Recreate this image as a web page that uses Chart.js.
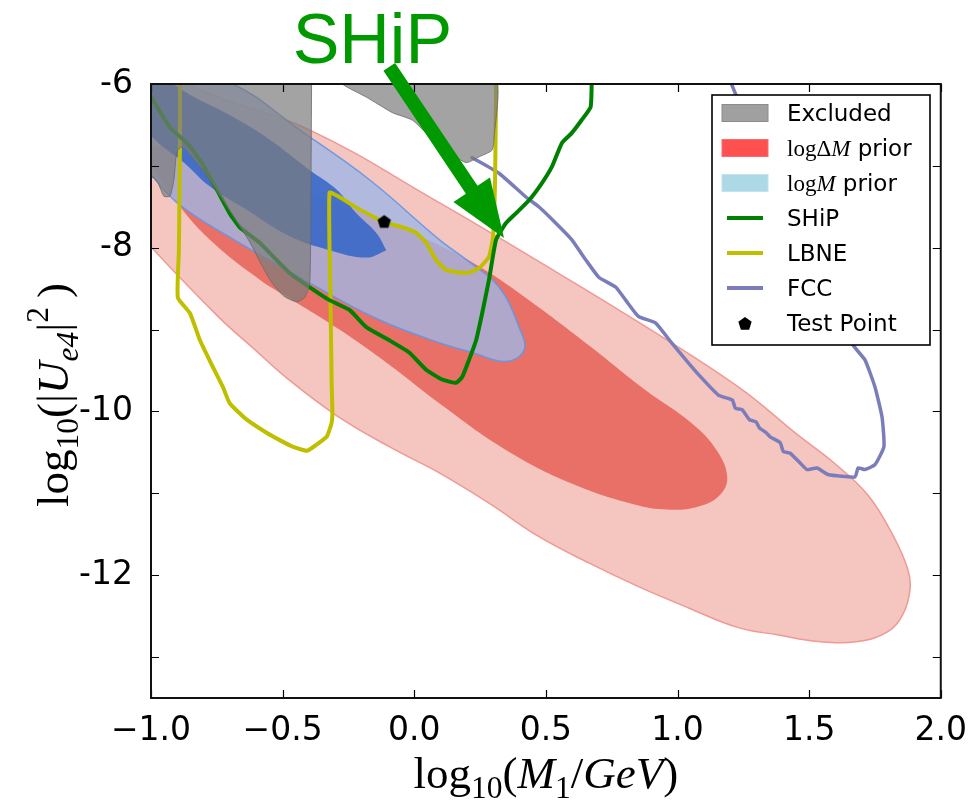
<!DOCTYPE html>
<html>
<head>
<meta charset="utf-8">
<script src="https://cdn.jsdelivr.net/npm/chart.js@4.4.0/dist/chart.umd.min.js"></script>
<style>
  html, body { margin: 0; padding: 0; background: #fff; }
  #wrap { width: 973px; height: 806px; }
</style>
</head>
<body>
<div id="wrap"><canvas id="chart" width="973" height="806"></canvas></div>
<script>
// x = log10(M1/GeV), y = log10(|Ue4|^2)

// logDeltaM prior, outer (2 sigma) contour
const dmOuterX = [-1.155,-0.814,-0.398,0.095,0.474,0.852,1.231,1.458,1.595,1.723,1.818,1.875,1.883,1.856,1.799,1.686,1.534,1.383,1.231,1.042,0.852,0.663,0.474,0.284,0.095,-0.095,-0.295,-0.485,-0.614,-0.739,-1.0,-1.155,-1.27,-1.155];
const dmOuterY = [-5.46,-6.07,-6.56,-7.45,-8.17,-8.91,-9.70,-10.29,-10.63,-11.02,-11.51,-11.93,-12.18,-12.48,-12.69,-12.81,-12.81,-12.73,-12.64,-12.40,-12.14,-11.85,-11.53,-11.12,-10.75,-10.43,-10.05,-9.59,-9.22,-8.86,-7.99,-7.42,-6.44,-5.46];

// logDeltaM prior, inner (1 sigma) contour
const dmInnerX = [-0.947,-0.739,-0.511,-0.322,-0.121,0.095,0.258,0.436,0.663,0.879,1.053,1.148,1.189,1.155,1.080,0.977,0.852,0.598,0.348,0.095,-0.095,-0.284,-0.462,-0.587,-0.777,-0.909,-0.985,-1.011,-0.947];
const dmInnerY = [-6.75,-6.99,-7.23,-7.42,-7.66,-7.97,-8.25,-8.64,-9.19,-9.74,-10.14,-10.47,-10.81,-11.04,-11.16,-11.20,-11.15,-10.88,-10.47,-9.90,-9.43,-9.00,-8.64,-8.39,-7.90,-7.42,-7.05,-6.81,-6.75];

// logM prior, outer contour
const mOuterX = [-1.004,-0.689,-0.436,-0.170,0.095,0.208,0.322,0.398,0.417,0.348,0.220,0.095,-0.133,-0.398,-0.701,-0.890,-0.992,-1.117,-1.155,-1.004];
const mOuterY = [-5.71,-6.00,-6.56,-7.17,-7.90,-8.17,-8.48,-8.97,-9.25,-9.39,-9.28,-9.16,-8.88,-8.43,-7.87,-7.48,-7.14,-6.68,-5.83,-5.71];

// logM prior, inner contour
const mInnerX = [-0.106,-0.144,-0.220,-0.295,-0.398,-0.549,-0.701,-0.852,-1.004,-1.117,-1.117,-0.985,-0.871,-0.777,-0.625,-0.473,-0.322,-0.182,-0.106];
const mInnerY = [-8.03,-7.82,-7.58,-7.29,-7.05,-6.68,-6.38,-6.13,-5.83,-5.71,-6.20,-6.68,-6.97,-7.25,-7.56,-7.86,-8.03,-8.12,-8.03];

// excluded regions
const exLeftX = [-1.05,-0.390,-0.390,-0.394,-0.398,-0.417,-0.447,-0.496,-0.542,-0.580,-0.625,-0.682,-0.739,-0.795,-0.845,-0.883,-0.902,-0.913,-0.928,-0.951,-0.973,-0.992,-1.05,-1.05];
const exLeftY = [-5.9,-5.9,-6.0,-8.03,-8.45,-8.61,-8.66,-8.59,-8.42,-8.21,-7.93,-7.64,-7.36,-7.09,-6.89,-6.77,-6.83,-7.17,-7.37,-7.37,-7.21,-7.14,-7.13,-5.9];
const exTopX = [-0.273,-0.273,-0.182,-0.083,-0.008,0.045,0.121,0.197,0.246,0.295,0.303,0.303,-0.273];
const exTopY = [-5.9,-6.0,-6.16,-6.35,-6.44,-6.60,-6.81,-6.96,-6.89,-6.81,-6.68,-5.9,-5.9];

// sensitivity curves
const shipX = [-1.02,-0.928,-0.864,-0.814,-0.750,-0.701,-0.663,-0.587,-0.523,-0.473,-0.398,-0.322,-0.246,-0.182,-0.095,-0.019,0.045,0.106,0.159,0.182,0.208,0.235,0.258,0.284,0.311,0.348,0.386,0.436,0.485,0.523,0.561,0.598,0.636,0.670,0.674];
const shipY = [-6.05,-6.53,-6.72,-6.93,-7.29,-7.58,-7.75,-7.94,-8.15,-8.31,-8.48,-8.64,-8.76,-8.97,-9.13,-9.28,-9.49,-9.61,-9.65,-9.58,-9.37,-9.13,-8.80,-8.39,-7.90,-7.70,-7.58,-7.42,-7.21,-7.01,-6.72,-6.60,-6.44,-6.28,-6.00];

const lbneX = [-0.890,-0.890,-0.894,-0.898,-0.852,-0.814,-0.769,-0.727,-0.701,-0.636,-0.561,-0.511,-0.462,-0.409,-0.386,-0.333,-0.314,-0.311,-0.314,-0.318,-0.322,-0.284,-0.220,-0.144,-0.114,-0.045,0.008,0.045,0.083,0.121,0.197,0.246,0.284,0.299,0.307,0.311];
const lbneY = [-6.00,-6.68,-8.03,-8.61,-8.80,-9.13,-9.43,-9.70,-9.90,-10.10,-10.26,-10.35,-10.43,-10.48,-10.44,-10.31,-10.14,-10.02,-9.61,-8.64,-7.33,-7.38,-7.51,-7.64,-7.69,-7.75,-7.82,-7.94,-8.15,-8.27,-8.31,-8.25,-8.11,-7.87,-7.17,-6.00];

const fccX = [1.205,1.231,1.345,1.458,1.572,1.667,1.712,1.750,1.777,1.784,1.750,1.712,1.686,1.674,1.572,1.530,1.492,1.466,1.428,1.402,1.390,1.352,1.337,1.311,1.299,1.273,1.246,1.220,1.208,1.155,1.080,1.042,0.977,0.917,0.852,0.803,0.765,0.701,0.652,0.598,0.538,0.473,0.424,0.322,0.220];
const fccY = [-6.00,-6.20,-6.93,-7.66,-8.52,-9.19,-9.37,-9.70,-10.07,-10.43,-10.65,-10.71,-10.69,-10.80,-10.77,-10.69,-10.71,-10.63,-10.51,-10.49,-10.38,-10.31,-10.26,-10.20,-10.13,-10.10,-9.98,-9.96,-9.86,-9.80,-9.55,-9.41,-9.16,-8.92,-8.84,-8.64,-8.48,-8.36,-8.15,-7.90,-7.70,-7.50,-7.38,-7.09,-6.90];

// test point
const testX = [-0.114];
const testY = [-7.68];

// axes
const xTickValues = [-1.0, -0.5, 0.0, 0.5, 1.0, 1.5, 2.0];
const yTickValues = [-13, -12, -11, -10, -9, -8, -7, -6];
const yLabelledTicks = [-12, -10, -8, -6];

// annotation (data coordinates)
const shipLabel = { text: 'SHiP', x: -0.462, y: -5.74 };
const arrowFrom = { x: -0.095, y: -5.79 };
const arrowTo = { x: 0.341, y: -7.88 };

const SANS = 'DejaVu Sans';
const SERIF = 'Liberation Serif';

function pts(xs, ys) {
    return xs.map((x, i) => ({ x: x, y: ys[i] }));
}

function pentagon(ctx, cx, cy, r) {
    ctx.beginPath();
    for (let i = 0; i < 5; i++) {
        const a = -Math.PI / 2 + i * 2 * Math.PI / 5;
        const px = cx + r * Math.cos(a), py = cy + r * Math.sin(a);
        if (i === 0) ctx.moveTo(px, py); else ctx.lineTo(px, py);
    }
    ctx.closePath();
    ctx.fill();
}

// marker image for the test point
const marker = document.createElement('canvas');
marker.width = 18; marker.height = 18;
(function () {
    const m = marker.getContext('2d');
    m.fillStyle = '#000';
    pentagon(m, 9, 9.5, 7);
})();

// draw text made of roman / italic / sub / superscript parts
function drawRich(ctx, parts, x, y, size, align) {
    const items = parts.map(p => {
        const s = (p.sub || p.sup) ? size * 0.7 : size;
        const font = (p.it ? 'italic ' : '') + s + 'px "' + (p.sans ? SANS : SERIF) + '"';
        ctx.font = font;
        const w = ctx.measureText(p.t).width;
        return { t: p.t, font: font, w: w, dy: p.sub ? size * 0.22 : (p.sup ? -size * 0.45 : 0) };
    });
    const total = items.reduce((s, it) => s + it.w, 0);
    let cx = align === 'center' ? x - total / 2 : x;
    items.forEach(it => {
        ctx.font = it.font;
        ctx.fillText(it.t, cx, y + it.dy);
        cx += it.w;
    });
}

const xTitle = [{ t: 'log' }, { t: '10', sub: true }, { t: '(' }, { t: 'M', it: true }, { t: '1', sub: true },
    { t: '/' }, { t: 'GeV', it: true }, { t: ')' }];
const yTitle = [{ t: 'log' }, { t: '10', sub: true }, { t: '(|' }, { t: 'U', it: true }, { t: 'e4', sub: true, it: true },
    { t: '|' }, { t: '2', sup: true }, { t: '\u2009)' }];

const legendItems = [
    { kind: 'patch', fill: '#a0a0a0', stroke: '#8c8c8c', parts: [{ t: 'Excluded', sans: true }] },
    { kind: 'patch', fill: '#ff5050', stroke: '#f47070', parts: [{ t: 'log' }, { t: '\u0394' }, { t: 'M', it: true }, { t: ' prior', sans: true }] },
    { kind: 'patch', fill: '#add8e6', stroke: '#c2e2ec', parts: [{ t: 'log' }, { t: 'M', it: true }, { t: ' prior', sans: true }] },
    { kind: 'line', color: '#008000', parts: [{ t: 'SHiP', sans: true }] },
    { kind: 'line', color: '#bfbf00', parts: [{ t: 'LBNE', sans: true }] },
    { kind: 'line', color: '#7b7dbb', parts: [{ t: 'FCC', sans: true }] },
    { kind: 'marker', parts: [{ t: 'Test Point', sans: true }] }
];

const decorations = {
    id: 'decorations',
    afterDraw(chart) {
        const ctx = chart.ctx, a = chart.chartArea;
        const xs = chart.scales.x, ys = chart.scales.y;
        ctx.save();

        // inward ticks on all four sides
        ctx.strokeStyle = '#000';
        ctx.lineWidth = 1.2;
        ctx.beginPath();
        xTickValues.forEach(v => {
            const p = Math.round(xs.getPixelForValue(v)) + 0.5;
            ctx.moveTo(p, a.bottom); ctx.lineTo(p, a.bottom - 8);
            ctx.moveTo(p, a.top); ctx.lineTo(p, a.top + 8);
        });
        yTickValues.forEach(v => {
            const p = Math.round(ys.getPixelForValue(v)) + 0.5;
            ctx.moveTo(a.left, p); ctx.lineTo(a.left + 8, p);
            ctx.moveTo(a.right, p); ctx.lineTo(a.right - 8, p);
        });
        ctx.stroke();

        // frame
        ctx.lineWidth = 2;
        ctx.strokeStyle = '#111';
        ctx.strokeRect(a.left, a.top, a.right - a.left, a.bottom - a.top);

        // axis titles
        ctx.fillStyle = '#000';
        ctx.textBaseline = 'alphabetic';
        ctx.textAlign = 'left';
        drawRich(ctx, xTitle, (a.left + a.right) / 2, 788, 45, 'center');
        ctx.save();
        ctx.translate(68, (a.top + a.bottom) / 2 + 4);
        ctx.rotate(-Math.PI / 2);
        drawRich(ctx, yTitle, 0, 0, 45, 'center');
        ctx.restore();

        // legend
        const L = { left: 712, top: 95, right: 930, bottom: 345 };
        ctx.fillStyle = '#fff';
        ctx.fillRect(L.left, L.top, L.right - L.left, L.bottom - L.top);
        ctx.lineWidth = 1.6;
        ctx.strokeStyle = '#000';
        ctx.strokeRect(L.left, L.top, L.right - L.left, L.bottom - L.top);
        legendItems.forEach((it, i) => {
            const cy = 113 + i * 35;
            if (it.kind === 'patch') {
                ctx.fillStyle = it.fill;
                ctx.fillRect(722, cy - 8.5, 46, 17);
                ctx.strokeStyle = it.stroke;
                ctx.lineWidth = 1;
                ctx.strokeRect(722, cy - 8.5, 46, 17);
            } else if (it.kind === 'line') {
                ctx.strokeStyle = it.color;
                ctx.lineWidth = 4;
                ctx.beginPath();
                ctx.moveTo(727, cy); ctx.lineTo(763, cy);
                ctx.stroke();
            } else {
                ctx.fillStyle = '#000';
                pentagon(ctx, 745, cy + 1, 7);
            }
            ctx.fillStyle = '#000';
            drawRich(ctx, it.parts, 787, cy + 8, 23, 'left');
        });

        // SHiP annotation and arrow
        const green = '#009a00';
        ctx.fillStyle = green;
        ctx.font = '70px "Liberation Sans"';
        ctx.fillText(shipLabel.text, xs.getPixelForValue(shipLabel.x), ys.getPixelForValue(shipLabel.y));

        const p0 = { x: xs.getPixelForValue(arrowFrom.x), y: ys.getPixelForValue(arrowFrom.y) };
        const p1 = { x: xs.getPixelForValue(arrowTo.x), y: ys.getPixelForValue(arrowTo.y) };
        const dx = p1.x - p0.x, dy = p1.y - p0.y, len = Math.hypot(dx, dy);
        const ux = dx / len, uy = dy / len, nx = -uy, ny = ux;
        const headLen = 58, headHalf = 22, shaftHalf = 7;
        const bx = p1.x - ux * headLen, by = p1.y - uy * headLen;
        ctx.beginPath();
        ctx.moveTo(p0.x + nx * shaftHalf, p0.y + ny * shaftHalf);
        ctx.lineTo(bx + nx * shaftHalf, by + ny * shaftHalf);
        ctx.lineTo(bx + nx * headHalf, by + ny * headHalf);
        ctx.lineTo(p1.x, p1.y);
        ctx.lineTo(bx - nx * headHalf, by - ny * headHalf);
        ctx.lineTo(bx - nx * shaftHalf, by - ny * shaftHalf);
        ctx.lineTo(p0.x - nx * shaftHalf, p0.y - ny * shaftHalf);
        ctx.closePath();
        ctx.fill();

        ctx.restore();
    }
};

function region(label, xs, ys, fill, border, bw, tension, order) {
    return {
        label: label, data: pts(xs, ys), showLine: true, fill: 'shape',
        backgroundColor: fill, borderColor: border, borderWidth: bw,
        pointRadius: 0, tension: tension, order: order
    };
}

function curve(label, xs, ys, color, width, order) {
    return {
        label: label, data: pts(xs, ys), showLine: true, fill: false,
        borderColor: color, borderWidth: width, pointRadius: 0,
        tension: 0.15, order: order, borderCapStyle: 'round', borderJoinStyle: 'round'
    };
}

const ctx = document.getElementById('chart').getContext('2d');
window.mixingChart = new Chart(ctx, {
    type: 'scatter',
    data: {
        datasets: [
            region('logDeltaM outer', dmOuterX, dmOuterY, '#f5c5c0', '#ee9a95', 1.5, 0.4, 12),
            region('logDeltaM inner', dmInnerX, dmInnerY, '#e87066', 'rgba(0,0,0,0)', 0, 0.4, 11),
            region('logM outer', mOuterX, mOuterY, 'rgba(160,183,229,0.8)', 'rgba(100,150,225,0.9)', 1.5, 0.4, 10),
            region('logM inner', mInnerX, mInnerY, 'rgba(50,100,200,0.85)', 'rgba(0,0,0,0)', 0, 0.4, 9),
            curve('FCC', fccX, fccY, '#7b7dbb', 3.5, 8),
            curve('LBNE', lbneX, lbneY, '#bfbf00', 4, 7),
            curve('SHiP', shipX, shipY, '#008000', 4, 6),
            region('Excluded left', exLeftX, exLeftY, 'rgba(124,124,124,0.7)', 'rgba(105,105,105,0.8)', 1, 0.2, 5),
            region('Excluded top', exTopX, exTopY, 'rgba(124,124,124,0.7)', 'rgba(105,105,105,0.8)', 1, 0.2, 4),
            {
                label: 'Test Point', data: pts(testX, testY), showLine: false,
                pointStyle: marker, pointRadius: 8, order: 1
            }
        ]
    },
    options: {
        responsive: false,
        animation: false,
        events: [],
        devicePixelRatio: 1,
        layout: { padding: { top: 84, right: 30, bottom: 0, left: 0 } },
        elements: { line: { capBezierPoints: false } },
        plugins: {
            legend: { display: false },
            tooltip: { enabled: false }
        },
        scales: {
            x: {
                type: 'linear', min: -1, max: 2,
                grid: { display: false },
                border: { display: false },
                afterFit: s => { s.height = 108; },
                afterBuildTicks: s => { s.ticks = xTickValues.map(v => ({ value: v })); },
                ticks: {
                    autoSkip: false, maxRotation: 0, padding: 6, color: '#000',
                    font: { family: SANS, size: 33 },
                    callback: v => (v < 0 ? '\u2212' : '') + Math.abs(v).toFixed(1)
                }
            },
            y: {
                type: 'linear', min: -13.5, max: -6,
                grid: { display: false },
                border: { display: false },
                afterFit: s => { s.width = 151; },
                afterBuildTicks: s => { s.ticks = yTickValues.map(v => ({ value: v })); },
                ticks: {
                    autoSkip: false, padding: 10, color: '#000',
                    font: { family: SANS, size: 33 },
                    callback: v => yLabelledTicks.includes(v) ? String(v) : ''
                }
            }
        }
    },
    plugins: [decorations]
});
</script>
</body>
</html>
